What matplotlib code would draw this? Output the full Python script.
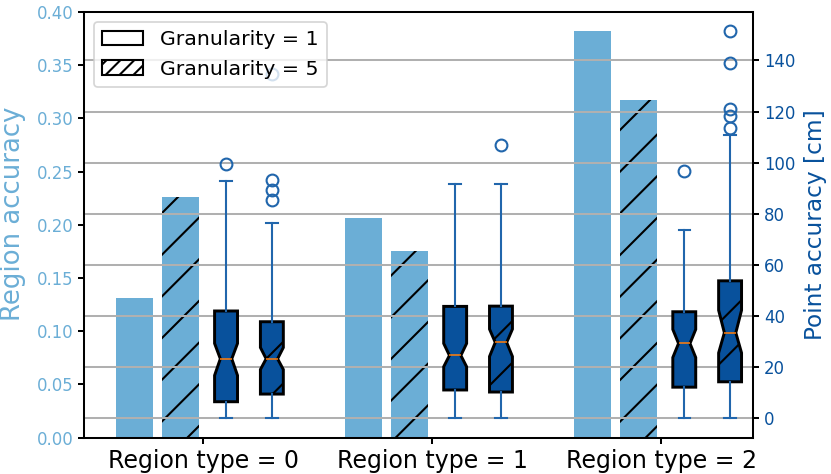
import matplotlib

matplotlib.use('Agg')

import matplotlib.pyplot as plt
import numpy as np
from matplotlib.patches import Patch

# values
region_types = ['Region type = 0', 'Region type = 1', 'Region type = 2']
region_acc_g1 = [0.131, 0.206, 0.382]
region_acc_g5 = [0.226, 0.1755, 0.317]

# point accuracy box stats [cm]: whislo, q1, cilo, med, cihi, q3, whishi
point_g1 = [
    [0.0, 6.5, 16.8, 23.3, 29.3, 42.0, 92.8],
    [0.0, 11.1, 20.2, 24.6, 29.3, 43.8, 91.6],
    [0.0, 12.2, 23.8, 29.3, 34.8, 41.7, 73.6],
]
fliers_g1 = [[99.6], [], [96.8]]
point_g5 = [
    [0.0, 9.5, 19.1, 23.3, 27.7, 37.8, 76.3],
    [0.0, 10.3, 24.2, 29.7, 34.9, 43.9, 91.6],
    [0.0, 14.3, 25.6, 33.5, 42.3, 53.8, 110.7],
]
fliers_g5 = [[85.4, 89.5, 93.2, 134.8], [106.8], [113.6, 118.3, 121.2, 139.0, 151.4]]

light = '#6baed6'
dark = '#08519c'
mid = '#2166ac'
DPI = 250

plt.rcParams['hatch.linewidth'] = 0.6
plt.rcParams['axes.linewidth'] = 0.58


def make_stats(rows, fliers):
    keys = ['whislo', 'q1', 'cilo', 'med', 'cihi', 'q3', 'whishi']
    out = []
    for row, fl in zip(rows, fliers):
        d = dict(zip(keys, row))
        d['fliers'] = np.array(fl)
        out.append(d)
    return out


fig = plt.figure(figsize=(831 / DPI, 474 / DPI), dpi=DPI)
ax1 = fig.add_axes([84 / 831, 1 - 437.7 / 474, (753 - 84) / 831, (437.7 - 12) / 474])
ax2 = ax1.twinx()

x = np.arange(len(region_types))
ax1.bar(x - 0.3, region_acc_g1, width=0.16, color=light)
ax1.bar(x - 0.1, region_acc_g5, width=0.16, color=light, hatch='//')
ax1.set_ylim(0, 0.4)
ax1.set_xlim(-0.52, 2.40)
ax1.set_xticks(x)
ax1.set_xticklabels(region_types, fontsize=6.8)
ax1.set_ylabel('Region accuracy', color=light, fontsize=7.5)
ax1.yaxis.set_label_coords(-0.087, 0.527)
ax1.tick_params(axis='y', labelcolor=light, labelsize=4.75, length=1.7, width=0.58, pad=1.4)
ax1.tick_params(axis='x', length=1.7, width=0.58, pad=1.6)

ax2.yaxis.grid(True, color='#b0b0b0', lw=0.58)
ax2.set_axisbelow(True)

common = dict(
    widths=0.1,
    shownotches=True,
    patch_artist=True,
    manage_ticks=False,
    boxprops=dict(facecolor=dark, edgecolor='black', linewidth=0.85),
    whiskerprops=dict(color=mid, linewidth=0.6),
    capprops=dict(color=mid, linewidth=0.6),
    medianprops=dict(color='#ff7f0e', linewidth=0.45),
    flierprops=dict(marker='o', markerfacecolor='none', markeredgecolor=mid,
                    markersize=3.4, markeredgewidth=0.6),
)
ax2.bxp(make_stats(point_g1, fliers_g1), positions=x + 0.1, **common)
b5 = ax2.bxp(make_stats(point_g5, fliers_g5), positions=x + 0.3, **common)
for box in b5['boxes']:
    box.set_hatch('//')

ax2.set_ylabel('Point accuracy [cm]', color=dark, fontsize=6.7, labelpad=2.5)
ax2.tick_params(axis='y', labelcolor=dark, labelsize=4.75, length=1.7, width=0.58, pad=1.4)

handles = [
    Patch(facecolor='white', edgecolor='black', linewidth=0.6, label='Granularity = 1'),
    Patch(facecolor='white', edgecolor='black', linewidth=0.6, hatch='//////', label='Granularity = 5'),
]
leg = ax2.legend(handles=handles, loc='upper left', fontsize=5.9)
leg.get_frame().set_linewidth(0.5)

fig.savefig('out.png', dpi=DPI)
